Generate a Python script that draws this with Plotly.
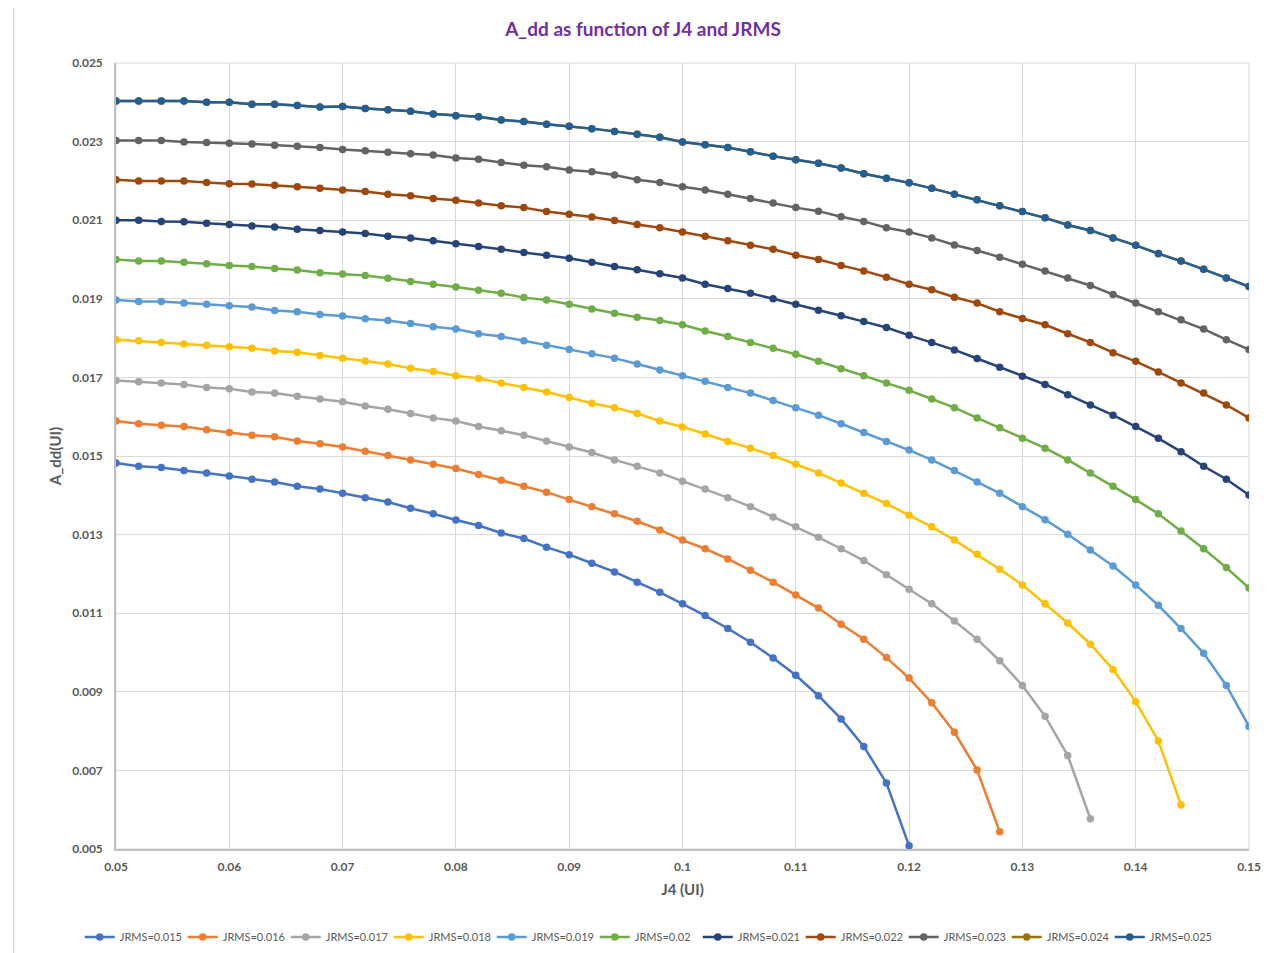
import plotly.graph_objects as go

J4 = [0.050, 0.052, 0.054, 0.056, 0.058, 0.060, 0.062, 0.064, 0.066, 0.068,
      0.070, 0.072, 0.074, 0.076, 0.078, 0.080, 0.082, 0.084, 0.086, 0.088,
      0.090, 0.092, 0.094, 0.096, 0.098, 0.100, 0.102, 0.104, 0.106, 0.108,
      0.110, 0.112, 0.114, 0.116, 0.118, 0.120, 0.122, 0.124, 0.126, 0.128,
      0.130, 0.132, 0.134, 0.136, 0.138, 0.140, 0.142, 0.144, 0.146, 0.148,
      0.150]

j015 = [0.01482, 0.01474, 0.01471, 0.01463, 0.01457, 0.01449, 0.01441, 0.01434, 0.01423, 0.01416,
        0.01405, 0.01394, 0.01383, 0.01367, 0.01353, 0.01337, 0.01323, 0.01304, 0.01290, 0.01268,
        0.01249, 0.01227, 0.01205, 0.01179, 0.01153, 0.01124, 0.01094, 0.01061, 0.01026, 0.00986,
        0.00942, 0.00890, 0.00831, 0.00761, 0.00668, 0.00508]
j016 = [0.01589, 0.01582, 0.01578, 0.01575, 0.01567, 0.01560, 0.01553, 0.01549, 0.01538, 0.01531,
        0.01523, 0.01512, 0.01501, 0.01490, 0.01479, 0.01468, 0.01453, 0.01438, 0.01423, 0.01408,
        0.01389, 0.01371, 0.01353, 0.01334, 0.01312, 0.01286, 0.01264, 0.01238, 0.01209, 0.01179,
        0.01146, 0.01113, 0.01072, 0.01034, 0.00987, 0.00935, 0.00872, 0.00797, 0.00701, 0.00544]
j017 = [0.01692, 0.01689, 0.01686, 0.01682, 0.01674, 0.01671, 0.01663, 0.01660, 0.01652, 0.01645,
        0.01638, 0.01627, 0.01619, 0.01608, 0.01597, 0.01589, 0.01575, 0.01564, 0.01553, 0.01538,
        0.01523, 0.01509, 0.01490, 0.01474, 0.01457, 0.01436, 0.01416, 0.01394, 0.01371, 0.01345,
        0.01320, 0.01293, 0.01264, 0.01234, 0.01198, 0.01161, 0.01124, 0.01080, 0.01034, 0.00979,
        0.00916, 0.00838, 0.00738, 0.00577]
j018 = [0.01796, 0.01793, 0.01789, 0.01785, 0.01782, 0.01778, 0.01774, 0.01767, 0.01764, 0.01756,
        0.01749, 0.01742, 0.01734, 0.01723, 0.01715, 0.01704, 0.01697, 0.01686, 0.01674, 0.01663,
        0.01649, 0.01634, 0.01623, 0.01608, 0.01589, 0.01574, 0.01556, 0.01537, 0.01520, 0.01501,
        0.01479, 0.01457, 0.01431, 0.01405, 0.01379, 0.01349, 0.01320, 0.01286, 0.01250, 0.01212,
        0.01172, 0.01124, 0.01075, 0.01021, 0.00957, 0.00875, 0.00775, 0.00612]
j019 = [0.01897, 0.01893, 0.01893, 0.01889, 0.01886, 0.01882, 0.01879, 0.01870, 0.01867, 0.01860,
        0.01856, 0.01849, 0.01845, 0.01837, 0.01829, 0.01823, 0.01811, 0.01804, 0.01793, 0.01782,
        0.01771, 0.01760, 0.01749, 0.01734, 0.01719, 0.01704, 0.01690, 0.01674, 0.01660, 0.01641,
        0.01623, 0.01604, 0.01582, 0.01560, 0.01537, 0.01515, 0.01490, 0.01463, 0.01434, 0.01405,
        0.01371, 0.01338, 0.01301, 0.01261, 0.01220, 0.01172, 0.01120, 0.01061, 0.00998, 0.00916,
        0.00812]
j020 = [0.02000, 0.01996, 0.01996, 0.01993, 0.01989, 0.01985, 0.01982, 0.01977, 0.01973, 0.01966,
        0.01963, 0.01959, 0.01952, 0.01944, 0.01937, 0.01930, 0.01922, 0.01914, 0.01903, 0.01897,
        0.01886, 0.01874, 0.01863, 0.01853, 0.01845, 0.01834, 0.01818, 0.01804, 0.01789, 0.01774,
        0.01759, 0.01741, 0.01722, 0.01704, 0.01686, 0.01667, 0.01645, 0.01623, 0.01597, 0.01572,
        0.01545, 0.01520, 0.01490, 0.01457, 0.01423, 0.01389, 0.01353, 0.01309, 0.01264, 0.01216,
        0.01164]
j021 = [0.02100, 0.02100, 0.02097, 0.02096, 0.02092, 0.02089, 0.02085, 0.02083, 0.02077, 0.02074,
        0.02070, 0.02066, 0.02059, 0.02055, 0.02048, 0.02040, 0.02033, 0.02026, 0.02018, 0.02011,
        0.02003, 0.01993, 0.01982, 0.01974, 0.01964, 0.01953, 0.01937, 0.01926, 0.01914, 0.01900,
        0.01886, 0.01871, 0.01857, 0.01842, 0.01827, 0.01807, 0.01789, 0.01770, 0.01748, 0.01726,
        0.01703, 0.01682, 0.01656, 0.01630, 0.01604, 0.01575, 0.01545, 0.01511, 0.01474, 0.01441,
        0.01401]
j022 = [0.02203, 0.02200, 0.02200, 0.02200, 0.02196, 0.02193, 0.02192, 0.02189, 0.02185, 0.02181,
        0.02177, 0.02173, 0.02166, 0.02162, 0.02155, 0.02151, 0.02144, 0.02137, 0.02132, 0.02122,
        0.02115, 0.02108, 0.02099, 0.02089, 0.02081, 0.02070, 0.02059, 0.02048, 0.02036, 0.02026,
        0.02011, 0.02000, 0.01985, 0.01971, 0.01955, 0.01937, 0.01923, 0.01904, 0.01889, 0.01867,
        0.01850, 0.01834, 0.01811, 0.01789, 0.01763, 0.01741, 0.01714, 0.01686, 0.01660, 0.01630,
        0.01597]
j023 = [0.02303, 0.02303, 0.02303, 0.02299, 0.02298, 0.02296, 0.02294, 0.02291, 0.02288, 0.02285,
        0.02280, 0.02277, 0.02273, 0.02269, 0.02266, 0.02258, 0.02255, 0.02247, 0.02240, 0.02236,
        0.02228, 0.02223, 0.02215, 0.02203, 0.02196, 0.02185, 0.02177, 0.02166, 0.02155, 0.02144,
        0.02132, 0.02123, 0.02109, 0.02097, 0.02081, 0.02070, 0.02055, 0.02037, 0.02023, 0.02006,
        0.01988, 0.01971, 0.01953, 0.01934, 0.01911, 0.01889, 0.01867, 0.01847, 0.01823, 0.01796,
        0.01771]
# JRMS=0.024 is hidden beneath JRMS=0.025 in the reference (same curve)
j024 = [0.02403, 0.02403, 0.02403, 0.02403, 0.02400, 0.02400, 0.02395, 0.02395, 0.02392, 0.02388,
        0.02389, 0.02384, 0.02381, 0.02377, 0.02370, 0.02366, 0.02363, 0.02355, 0.02351, 0.02344,
        0.02339, 0.02333, 0.02326, 0.02319, 0.02311, 0.02299, 0.02292, 0.02285, 0.02274, 0.02263,
        0.02254, 0.02245, 0.02233, 0.02218, 0.02207, 0.02195, 0.02181, 0.02166, 0.02152, 0.02137,
        0.02122, 0.02106, 0.02088, 0.02074, 0.02055, 0.02036, 0.02015, 0.01996, 0.01975, 0.01953,
        0.01931]
j025 = [0.02403, 0.02403, 0.02403, 0.02403, 0.02400, 0.02400, 0.02395, 0.02395, 0.02392, 0.02388,
        0.02389, 0.02384, 0.02381, 0.02377, 0.02370, 0.02366, 0.02363, 0.02355, 0.02351, 0.02344,
        0.02339, 0.02333, 0.02326, 0.02319, 0.02311, 0.02299, 0.02292, 0.02285, 0.02274, 0.02263,
        0.02254, 0.02245, 0.02233, 0.02218, 0.02207, 0.02195, 0.02181, 0.02166, 0.02152, 0.02137,
        0.02122, 0.02106, 0.02088, 0.02074, 0.02055, 0.02036, 0.02015, 0.01996, 0.01975, 0.01953,
        0.01931]

series_names = ["JRMS=0.015", "JRMS=0.016", "JRMS=0.017", "JRMS=0.018", "JRMS=0.019",
                "JRMS=0.02", "JRMS=0.021", "JRMS=0.022", "JRMS=0.023", "JRMS=0.024", "JRMS=0.025"]
series_values = [j015, j016, j017, j018, j019, j020, j021, j022, j023, j024, j025]
colors = ["#4472C4", "#ED7D31", "#A5A5A5", "#FFC000", "#5B9BD5", "#70AD47",
          "#264478", "#9E480E", "#636363", "#997300", "#255E91"]

fig = go.Figure()
for name, vals, col in zip(series_names, series_values, colors):
    fig.add_trace(go.Scatter(
        x=J4[:len(vals)], y=vals, name=name, mode="lines+markers",
        line=dict(color=col, width=2.5),
        marker=dict(color=col, size=7.5),
    ))

FONT = "Lato, Open Sans, sans-serif"
tick_font = dict(family=FONT, size=12, color="#595959", weight="bold")
# the page body adds an 8px margin, so the figure is sized/offset to compensate
fig.update_layout(
    width=1270, height=945,
    paper_bgcolor="white", plot_bgcolor="white",
    margin=dict(l=108, r=29, t=55, b=104, autoexpand=False),
    title=dict(text="<b>A_dd as function of J4 and JRMS</b>", x=0.5, xanchor="center",
               y=0.977, yanchor="middle",
               font=dict(family=FONT, size=19, color="#7030A0")),
    xaxis=dict(range=[0.05, 0.15], dtick=0.01, tick0=0.05, showgrid=True, gridcolor="#D9D9D9",
               gridwidth=1, zeroline=False, showline=True, linecolor="#BFBFBF", linewidth=1.5,
               ticks="", tickfont=tick_font, ticklabelstandoff=6, automargin=False,
               title=dict(text="<b>J4 (UI)</b>", standoff=11,
                          font=dict(family=FONT, size=15, color="#595959"))),
    yaxis=dict(range=[0.005, 0.025], dtick=0.002, tick0=0.005, showgrid=True, gridcolor="#D9D9D9",
               gridwidth=1, zeroline=False, showline=True, linecolor="#BFBFBF", linewidth=1.5,
               ticks="", tickfont=tick_font, ticklabelstandoff=9, automargin=False,
               title=dict(text="<b>A_dd(UI)</b>", standoff=7,
                          font=dict(family=FONT, size=15, color="#595959"))),
    legend=dict(orientation="h", x=-0.032, xanchor="left", y=-0.112, yanchor="middle",
                font=dict(family=FONT, size=11, color="#595959"),
                itemwidth=30, entrywidth=58, entrywidthmode="pixels", tracegroupgap=0),
    showlegend=True,
)
# plot-area frame (top/right) and outer chart border
fig.add_shape(type="rect", xref="paper", yref="paper", x0=0, y0=0, x1=1, y1=1,
              line=dict(color="#D9D9D9", width=1), layer="below")
fig.add_shape(type="rect", xref="paper", yref="paper", x0=-0.0903, y0=-0.16, x1=1.0257, y1=1.075,
              line=dict(color="#D9D9D9", width=1.5), layer="below")

fig.write_html("out.html")
